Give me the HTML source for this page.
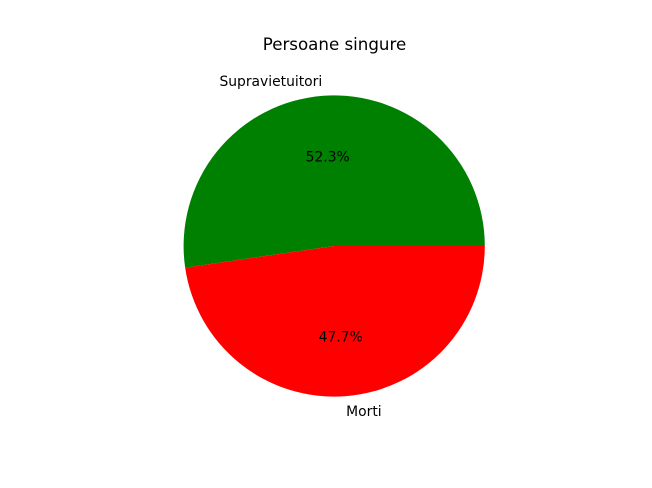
<!DOCTYPE html>
<html>
<head>
<meta charset="utf-8">
<style>
html,body{margin:0;padding:0;background:#fff;width:652px;height:488px;overflow:hidden}
svg{display:block}
text{font-family:"DejaVu Sans",sans-serif;fill:#000}
</style>
</head>
<body>
<svg id="chart" xmlns="http://www.w3.org/2000/svg" width="652" height="488" viewBox="0 0 652 488">
<text x="334.5" y="50" text-anchor="middle" font-size="16.67px">Persoane singure</text>
</svg>
<script>
const categories = ["Supravietuitori", "Morti"];
const values = [52.3, 47.7];
const colors = ["green", "red"];

const cx = 334.2, cy = 246, R = 150.6;
const svg = document.getElementById('chart');
const NS = 'http://www.w3.org/2000/svg';
const total = values.reduce(function (a, b) { return a + b; }, 0);
function pt(angle, r) {
  return [cx + r * Math.cos(angle), cy - r * Math.sin(angle)];
}
let start = 0;
values.forEach(function (v, i) {
  const sweep = v / total * 2 * Math.PI;
  const end = start + sweep;
  const mid = start + sweep / 2;
  const a = pt(start, R), b = pt(end, R);
  const slice = document.createElementNS(NS, 'path');
  slice.setAttribute('d', 'M' + cx + ' ' + cy + 'L' + a[0] + ' ' + a[1] + 'A' + R + ' ' + R + ' 0 ' + (sweep > Math.PI ? 1 : 0) + ' 0 ' + b[0] + ' ' + b[1] + 'Z');
  slice.setAttribute('fill', colors[i]);
  
  
  svg.appendChild(slice);

  const lp = pt(mid, R * 1.1);
  const label = document.createElementNS(NS, 'text');
  label.setAttribute('x', lp[0]);
  label.setAttribute('y', lp[1] + 5);
  label.setAttribute('font-size', '13.89px');
  label.setAttribute('text-anchor', lp[0] < cx ? 'end' : 'start');
  label.textContent = categories[i];
  
  
  svg.appendChild(label);

  const pp = pt(mid, R * 0.6);
  const pct = document.createElementNS(NS, 'text');
  pct.setAttribute('x', pp[0]);
  pct.setAttribute('y', pp[1] + 5.5);
  pct.setAttribute('font-size', '13.89px');
  pct.setAttribute('text-anchor', 'middle');
  pct.textContent = v.toFixed(1) + '%';
  
  
  svg.appendChild(pct);

  start = end;
});
</script>
</body>
</html>
